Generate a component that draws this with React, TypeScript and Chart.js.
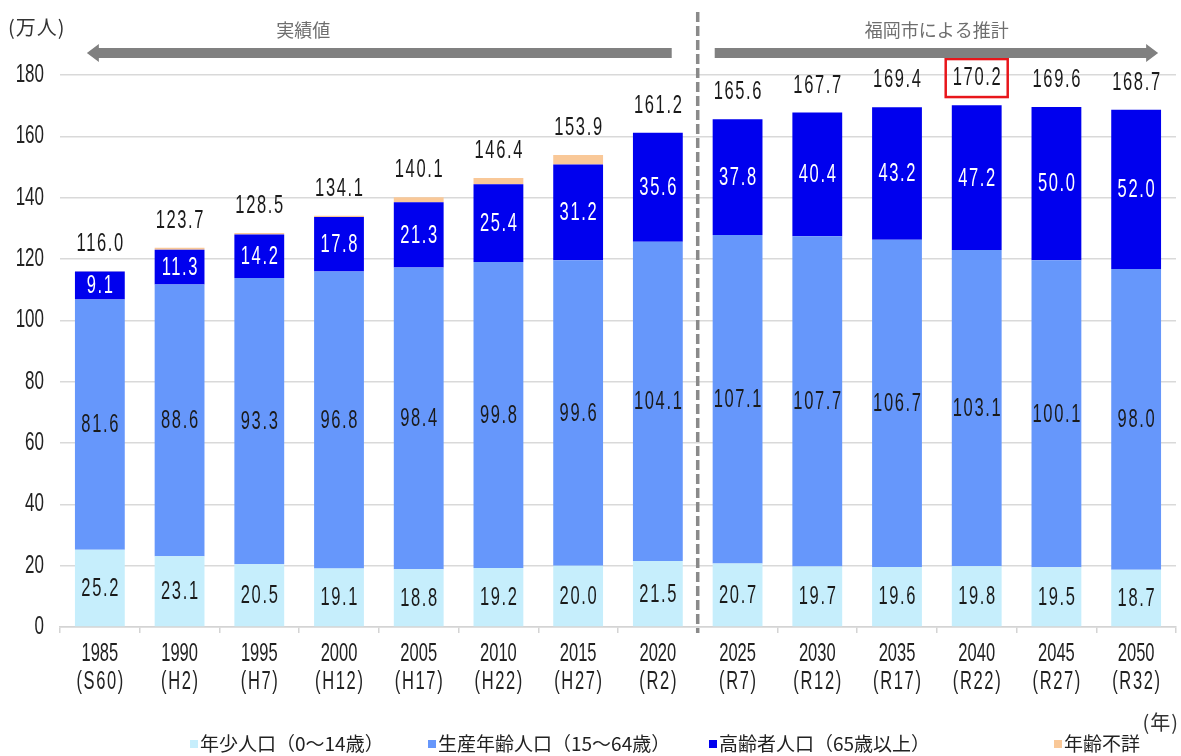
import { useEffect, useRef } from "react";
import { Chart, registerables } from "chart.js";

Chart.register(...registerables);

// ---- data ----
const years = ["1985", "1990", "1995", "2000", "2005", "2010", "2015", "2020", "2025", "2030", "2035", "2040", "2045", "2050"];
const eras = ["(S60)", "(H2)", "(H7)", "(H12)", "(H17)", "(H22)", "(H27)", "(R2)", "(R7)", "(R12)", "(R17)", "(R22)", "(R27)", "(R32)"];
const young = [25.2, 23.1, 20.5, 19.1, 18.8, 19.2, 20.0, 21.5, 20.7, 19.7, 19.6, 19.8, 19.5, 18.7];
const working = [81.6, 88.6, 93.3, 96.8, 98.4, 99.8, 99.6, 104.1, 107.1, 107.7, 106.7, 103.1, 100.1, 98.0];
const elderly = [9.1, 11.3, 14.2, 17.8, 21.3, 25.4, 31.2, 35.6, 37.8, 40.4, 43.2, 47.2, 50.0, 52.0];
const unknownAge = [0.1, 0.7, 0.5, 0.4, 1.6, 2.0, 3.1, 0, 0, 0, 0, 0, 0, 0];
const totals = [116.0, 123.7, 128.5, 134.1, 140.1, 146.4, 153.9, 161.2, 165.6, 167.7, 169.4, 170.2, 169.6, 168.7];
const seriesNames = ["年少人口（0～14歳）", "生産年齢人口（15～64歳）", "高齢者人口（65歳以上）", "年齢不詳"];
const actualCount = 8; // categories that are actual values (rest are projections)
const yMax = 180;
const yStep = 20;
const yUnit = "(万人)";
const xUnit = "(年)";
const actualLabel = "実績値";
const projLabel = "福岡市による推計";

// ---- styles ----
const colors = ["#c6eefc", "#6697fb", "#0000ee", "#f9c898"];
const NUM_FONT = '"Liberation Sans Narrow", "Arial Narrow", "Liberation Sans", sans-serif';
const CJK_FONT = '"Noto Sans CJK JP", "Noto Sans", sans-serif';
const legendX = [190, 428, 709, 1054];
const SX = 0.66;

function drawText(
  ctx: CanvasRenderingContext2D,
  text: string,
  x: number,
  y: number,
  font: string,
  color: string,
  align: CanvasTextAlign = "center",
  sx = 1,
  spacing = 0
) {
  ctx.save();
  ctx.font = font;
  ctx.fillStyle = color;
  ctx.textBaseline = "middle";
  ctx.textAlign = align;
  (ctx as any).letterSpacing = spacing + "px";
  ctx.translate(x, y);
  ctx.scale(sx, 1);
  ctx.fillText(text, align === "center" ? spacing / 2 : 0, 0);
  ctx.restore();
}

const overlayPlugin = {
  id: "overlay",
  afterDatasetsDraw(chart: any) {
    const ctx: CanvasRenderingContext2D = chart.ctx;
    const xs = chart.scales.x;
    const ys = chart.scales.y;
    const area = chart.chartArea;
    const numFont = `25px ${NUM_FONT}`;

    // segment labels
    [0, 1, 2].forEach((d) => {
      const meta = chart.getDatasetMeta(d);
      meta.data.forEach((el: any, idx: number) => {
        const p = el.getProps(["x", "y", "base"], true);
        const v = chart.data.datasets[d].data[idx] as number;
        drawText(ctx, v.toFixed(1), p.x, (p.y + p.base) / 2 + 1, numFont, d === 2 ? "#ffffff" : "#1a1a1a", "center", SX, 2.5);
      });
    });

    // totals
    totals.forEach((t, i) => {
      const x = xs.getPixelForValue(i);
      const y = ys.getPixelForValue(t) - 27;
      drawText(ctx, t.toFixed(1), x, y, numFont, "#1a1a1a", "center", SX, 2.5);
    });

    // highlight box around max total
    const maxIdx = totals.indexOf(Math.max(...totals));
    {
      const x = xs.getPixelForValue(maxIdx);
      const y = ys.getPixelForValue(totals[maxIdx]) - 27;
      ctx.save();
      ctx.strokeStyle = "#e8161b";
      ctx.lineWidth = 2.5;
      ctx.strokeRect(x - 31, y - 19, 62, 38);
      ctx.restore();
    }

    // dashed divider
    const boundary = (xs.getPixelForValue(actualCount - 1) + xs.getPixelForValue(actualCount)) / 2;
    ctx.save();
    ctx.strokeStyle = "#8a8a8a";
    ctx.lineWidth = 3.5;
    ctx.setLineDash([10, 4]);
    ctx.beginPath();
    ctx.moveTo(boundary, 12);
    ctx.lineTo(boundary, area.bottom + 6);
    ctx.stroke();
    ctx.restore();

    // arrows
    const ay = area.top - 22;
    const drawArrow = (from: number, tip: number) => {
      const dir = Math.sign(tip - from);
      const headLen = 12;
      const shaftH = 5;
      const headH = 9;
      const hb = tip - dir * headLen;
      ctx.save();
      ctx.fillStyle = "#808080";
      ctx.beginPath();
      ctx.moveTo(from, ay - shaftH);
      ctx.lineTo(hb, ay - shaftH);
      ctx.lineTo(hb, ay - headH);
      ctx.lineTo(tip, ay);
      ctx.lineTo(hb, ay + headH);
      ctx.lineTo(hb, ay + shaftH);
      ctx.lineTo(from, ay + shaftH);
      ctx.closePath();
      ctx.fill();
      ctx.restore();
    };
    drawArrow(boundary - 26, xs.getPixelForValue(0) - 13);
    drawArrow(boundary + 17, xs.getPixelForValue(years.length - 1) + 22);
    drawText(ctx, actualLabel, xs.getPixelForValue(2.55), area.top - 45, `18px ${CJK_FONT}`, "#6e6e6e");
    drawText(ctx, projLabel, xs.getPixelForValue(10.5), area.top - 45, `18px ${CJK_FONT}`, "#6e6e6e");

    // y tick labels
    ys.ticks.forEach((t: any) => {
      drawText(ctx, String(t.value), area.left - 16, ys.getPixelForValue(t.value), numFont, "#222", "right", 0.68, 0);
    });
    // x tick labels
    years.forEach((yr, i) => {
      const x = xs.getPixelForValue(i);
      drawText(ctx, yr, x, area.bottom + 27, numFont, "#222", "center", SX, 0);
      drawText(ctx, eras[i], x, area.bottom + 55, numFont, "#222", "center", SX, 2.5);
    });

    // units
    drawText(ctx, yUnit, 8, 27, `20px ${CJK_FONT}`, "#333", "left", 1, 1);
    drawText(ctx, xUnit, chart.width - 2, 722, `20px ${CJK_FONT}`, "#333", "right", 1, 1);

    // legend
    chart.data.datasets.forEach((ds: any, i: number) => {
      const lx = legendX[i];
      const ly = 744;
      ctx.save();
      ctx.fillStyle = ds.backgroundColor;
      ctx.fillRect(lx, ly - 4, 8, 8);
      ctx.restore();
      drawText(ctx, ds.label, lx + 10, ly, `19px ${CJK_FONT}`, "#222", "left");
    });
  },
};

export default function App() {
  const ref = useRef<HTMLCanvasElement | null>(null);

  useEffect(() => {
    if (!ref.current) return;
    const chart = new Chart(ref.current, {
      type: "bar",
      data: {
        labels: years,
        datasets: [young, working, elderly, unknownAge].map((d, i) => ({
          label: seriesNames[i],
          data: d,
          backgroundColor: colors[i],
          borderWidth: 0,
          categoryPercentage: 1,
          barPercentage: 0.625,
        })),
      },
      options: {
        animation: false,
        responsive: true,
        maintainAspectRatio: false,
        layout: { padding: { top: 75, right: 5, left: 0, bottom: 0 } },
        plugins: {
          legend: { display: false },
          tooltip: { enabled: false },
        },
        scales: {
          x: {
            stacked: true,
            grid: { offset: true, drawOnChartArea: false, drawTicks: true, tickLength: 6, color: "#d4d4d4", lineWidth: 1.5 },
            border: { display: true, color: "#d4d4d4", width: 1.5 },
            ticks: { display: false },
            afterFit: (s: any) => {
              s.height = 129;
            },
          },
          y: {
            stacked: true,
            min: 0,
            max: yMax,
            ticks: { display: false, stepSize: yStep },
            grid: { color: "#d9d9d9", lineWidth: 1.5, drawTicks: false },
            border: { display: false },
            afterFit: (s: any) => {
              s.width = 60;
            },
          },
        },
      },
      plugins: [overlayPlugin],
    });
    return () => chart.destroy();
  }, []);

  return (
    <div style={{ position: "absolute", left: 0, top: 0, width: 1181, height: 756, background: "#fff" }}>
      <canvas ref={ref} />
    </div>
  );
}
